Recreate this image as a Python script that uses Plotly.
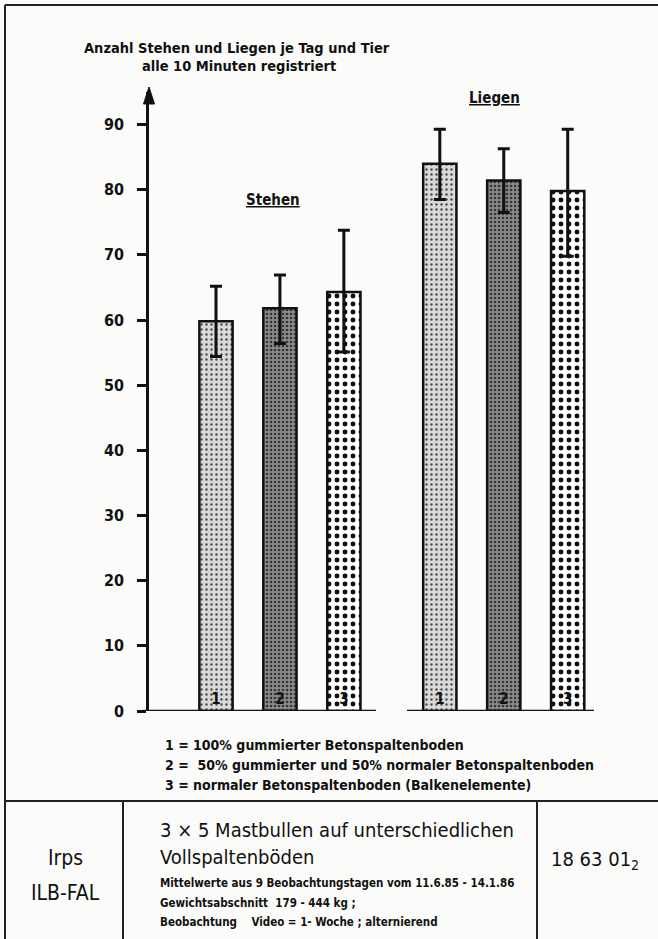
import plotly.graph_objects as go

# ---------------- data ----------------
groups = ["Stehen", "Liegen"]
floor_labels = ["1", "2", "3"]
mean_floor1 = [59.8, 84.0]
mean_floor2 = [61.8, 81.4]
mean_floor3 = [64.3, 79.8]
upper_floor1 = [65.2, 89.3]
upper_floor2 = [66.9, 86.3]
upper_floor3 = [73.8, 89.3]
lower_floor1 = [54.4, 78.5]
lower_floor2 = [56.4, 76.5]
lower_floor3 = [55.1, 69.8]
y_ticks = [0, 10, 20, 30, 40, 50, 60, 70, 80, 90]

legend_lines = [
    "1 = 100% gummierter Betonspaltenboden",
    "2 =  50% gummierter und 50% normaler Betonspaltenboden",
    "3 = normaler Betonspaltenboden (Balkenelemente)",
]

# ---------------- layout helpers ----------------
W, H = 658, 939
L, R, T, B = 149, 58, 92, 228
PW, PH = W - L - R, H - T - B


def px(x):
    return (x - L) / PW


def py(y):
    return 1 - (y - T) / PH


FONT = "Liberation Sans Narrow, DejaVu Sans Condensed, Arial Narrow, sans-serif"
BG = "#fbfbf9"

styles = [
    dict(bg="#d9d9d7", fg="#4a4a4a", size=5, solidity=0.18),
    dict(bg="#8a8a8a", fg="#363636", size=4, solidity=0.35),
    dict(bg="#ffffff", fg="#111111", size=8, solidity=0.3),
]

fig = go.Figure()
series = [
    (mean_floor1, upper_floor1, lower_floor1),
    (mean_floor2, upper_floor2, lower_floor2),
    (mean_floor3, upper_floor3, lower_floor3),
]
for i, (m, up, lo) in enumerate(series):
    st = styles[i]
    fig.add_trace(go.Bar(
        x=groups,
        y=m,
        name=floor_labels[i],
        text=[floor_labels[i]] * len(groups),
        textposition="inside",
        insidetextanchor="start",
        textangle=0,
        textfont=dict(family=FONT, size=15, color="#111111", weight="bold"),
        marker=dict(
            color=st["bg"],
            line=dict(color="#111111", width=2.5),
            pattern=dict(shape=".", fgcolor=st["fg"], bgcolor=st["bg"],
                         size=st["size"], solidity=st["solidity"],
                         fillmode="replace"),
        ),
        error_y=dict(
            type="data", symmetric=False,
            array=[u - v for u, v in zip(up, m)],
            arrayminus=[v - l for v, l in zip(m, lo)],
            color="#111111", thickness=3, width=6,
        ),
        showlegend=False,
        hoverinfo="skip",
    ))

fig.update_layout(
    width=W, height=H,
    margin=dict(l=L, r=R, t=T, b=B),
    paper_bgcolor=BG, plot_bgcolor=BG,
    barmode="group", bargap=0.143, bargroupgap=0.48,
    font=dict(family=FONT, color="#111111"),
    showlegend=False,
)
fig.update_xaxes(
    type="category", range=[-0.585, 1.43],
    showticklabels=False, ticks="", showline=False,
    showgrid=False, zeroline=False,
)
fig.update_yaxes(
    range=[0, 95], tickvals=y_ticks,
    ticks="outside", ticklen=9, tickwidth=2.5, tickcolor="#111111",
    ticklabelstandoff=10,
    tickfont=dict(family=FONT, size=16, color="#111111", weight="bold"),
    showline=True, linewidth=2.5, linecolor="#111111",
    showgrid=False, zeroline=False,
)

shapes = []
# broken baseline
shapes.append(dict(type="line", xref="paper", yref="y", x0=px(143), x1=px(376),
                   y0=0, y1=0, line=dict(color="#111111", width=2.5)))
shapes.append(dict(type="line", xref="paper", yref="y", x0=px(407), x1=px(594),
                   y0=0, y1=0, line=dict(color="#111111", width=2.5)))
# arrow head on the y axis
shapes.append(dict(
    type="path", xref="paper", yref="paper",
    path=f"M {px(149)} {py(87)} L {px(143.5)} {py(104)} L {px(154.5)} {py(104)} Z",
    fillcolor="#111111", line=dict(color="#111111", width=1),
))
# frame / title block
frame_lines = [
    (5, 5, 658, 5),
    (5, 5, 5, 939),
    (5, 801, 658, 801),
    (123, 801, 123, 939),
    (537, 801, 537, 939),
]
for x0, y0, x1, y1 in frame_lines:
    shapes.append(dict(type="line", xref="paper", yref="paper",
                       x0=px(x0), y0=py(y0), x1=px(x1), y1=py(y1),
                       line=dict(color="#222222", width=2)))
fig.update_layout(shapes=shapes)

ann = []


def text(x, y, s, size, anchor="left", bold=True):
    ann.append(dict(x=px(x), y=py(y), xref="paper", yref="paper", text=s,
                    showarrow=False, xanchor=anchor, yanchor="middle",
                    font=dict(family=FONT, size=size, color="#111111",
                              weight="bold" if bold else "normal")))


text(82, 48, "Anzahl Stehen und Liegen je Tag und Tier", 14.5)
text(140, 66, "alle 10 Minuten registriert", 14.5)
text(273, 200, "<u>Stehen</u>", 15, anchor="center")
text(494, 98, "<u>Liegen</u>", 15, anchor="center")
for k, line in enumerate(legend_lines):
    text(163, 745 + 20 * k, line, 14)

text(65, 858, "Irps", 21, anchor="center", bold=False)
text(65, 893, "ILB-FAL", 21, anchor="center", bold=False)
text(158, 830, "3 × 5 Mastbullen auf unterschiedlichen", 20, bold=False)
text(158, 857, "Vollspaltenböden", 20, bold=False)
text(158, 883, "Mittelwerte aus 9 Beobachtungstagen vom 11.6.85 - 14.1.86", 11.5)
text(158, 903, "Gewichtsabschnitt  179 - 444 kg ;", 11.5)
text(158, 922, "Beobachtung    Video = 1- Woche ; alternierend", 11.5)
text(595, 860, "18 63 01<sub>2</sub>", 20, anchor="center", bold=False)

fig.update_layout(annotations=ann)

fig.write_html(
    "out.html",
    config={"displayModeBar": False},
    post_script="document.body.style.margin='0';document.body.style.overflow='hidden';",
)
